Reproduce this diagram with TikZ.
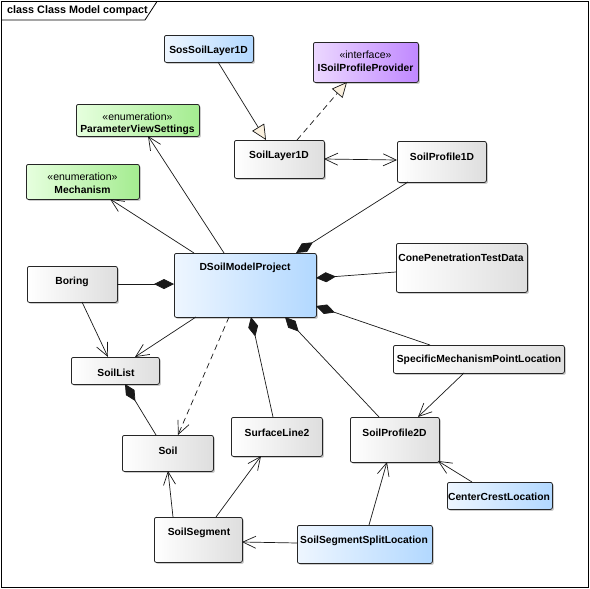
\documentclass[tikz,border=0pt]{standalone}
\usepackage{fontspec}
\setmainfont{Liberation Sans}
\usetikzlibrary{arrows.meta,shadows,calc}
\definecolor{bluel}{RGB}{238,246,255}
\definecolor{bluer}{RGB}{178,216,255}
\definecolor{greenl}{RGB}{230,255,222}
\definecolor{greenr}{RGB}{164,236,144}
\definecolor{purpl}{RGB}{236,216,255}
\definecolor{purpr}{RGB}{192,136,255}
\definecolor{cream}{RGB}{250,240,222}
\tikzset{
  box/.style={draw=black!85, rounded corners=2pt, line width=0.8pt, anchor=north west, inner sep=0pt,
    drop shadow={shadow xshift=1.5pt, shadow yshift=-1.5pt, fill=black!40, opacity=0.5}},
  plain/.style={box, left color=white, right color=black!13},
  bluebox/.style={box, left color=bluel, right color=bluer},
  greenbox/.style={box, left color=greenl, right color=greenr},
  purplebox/.style={box, left color=purpl, right color=purpr},
  lbl/.style={font=\bfseries\fontsize{10.3}{12}\selectfont, inner sep=0pt},
  stereo/.style={font=\fontsize{10.5}{12}\selectfont, inner sep=0pt},
  conn/.style={line width=0.7pt, draw=black!90},
  openarr/.style={conn, -{Straight Barb[length=13pt,width=12pt,line width=0.7pt]}},
  bothopen/.style={conn, {Straight Barb[length=13pt,width=12pt,line width=0.7pt]}-{Straight Barb[length=13pt,width=12pt,line width=0.7pt]}},
  genarr/.style={conn, -{Triangle[length=15pt,width=14pt,fill=cream,line width=0.7pt]}},
  realarr/.style={conn, dash pattern=on 6pt off 4pt, -{Triangle[length=15pt,width=14pt,fill=cream,line width=0.7pt]}},
  comp/.style={conn, {Diamond[length=20pt,width=10pt]}-},
  depend/.style={conn, dash pattern=on 6pt off 4pt, -{Straight Barb[length=13pt,width=12pt,line width=0.7pt]}},
}
\begin{document}
\begin{tikzpicture}[x=1pt,y=-1pt]
\useasboundingbox (0,0) rectangle (590,589);
% frame
\draw[line width=0.8pt] (1.5,1.5) rectangle (588,587.5);
\draw[line width=0.8pt] (1.5,20) -- (145,20) -- (157,1.5);
\node[lbl, font=\bfseries\fontsize{10.8}{12}\selectfont, anchor=west] (title) at (7,11) {class Class Model compact};

% boxes
\node[bluebox, minimum width=89pt, minimum height=27pt] (sos) at (164,35) {};
\node[purplebox, minimum width=105pt, minimum height=40pt] (isp) at (313,42) {};
\node[greenbox, minimum width=123pt, minimum height=32pt] (pvs) at (76,104) {};
\node[greenbox, minimum width=113pt, minimum height=35pt] (mech) at (26,164) {};
\node[plain, minimum width=90pt, minimum height=38pt] (sl1) at (234,140) {};
\node[plain, minimum width=89pt, minimum height=41pt] (sp1) at (397,141) {};
\node[bluebox, minimum width=142pt, minimum height=64pt] (dsm) at (174,253) {};
\node[plain, minimum width=131pt, minimum height=49pt] (cpt) at (396,243) {};
\node[plain, minimum width=90pt, minimum height=36pt] (boring) at (27,266) {};
\node[plain, minimum width=171pt, minimum height=28pt] (smpl) at (393,345) {};
\node[plain, minimum width=88pt, minimum height=27pt] (slist) at (71,357) {};
\node[plain, minimum width=91pt, minimum height=36pt] (soil) at (122,435) {};
\node[plain, minimum width=91pt, minimum height=39pt] (surf) at (231,417) {};
\node[plain, minimum width=89pt, minimum height=45pt] (sp2) at (350,417) {};
\node[bluebox, minimum width=105pt, minimum height=27pt] (ccl) at (447,482) {};
\node[plain, minimum width=88pt, minimum height=45pt] (seg) at (154,517) {};
\node[bluebox, minimum width=135pt, minimum height=38pt] (sssl) at (297,525) {};

% texts
\node[lbl] (tsos) at (208.5,50.5) {SosSoilLayer1D};
\node[stereo] (sisp) at (365.5,55) {«interface»};
\node[lbl] (tisp) at (365.5,68) {ISoilProfileProvider};
\node[stereo] (spvs) at (137.5,117) {«enumeration»};
\node[lbl] (tpvs) at (137.5,129.5) {ParameterViewSettings};
\node[stereo] (smech) at (82.5,177) {«enumeration»};
\node[lbl] (tmech) at (82.5,190) {Mechanism};
\node[lbl] (tsl1) at (279,156) {SoilLayer1D};
\node[lbl] (tsp1) at (442,157) {SoilProfile1D};
\node[lbl] (tdsm) at (245,268) {DSoilModelProject};
\node[lbl] (tcpt) at (461,258) {ConePenetrationTestData};
\node[lbl] (tboring) at (72,282) {Boring};
\node[lbl] (tsmpl) at (479,360) {SpecificMechanismPointLocation};
\node[lbl] (tslist) at (116,373) {SoilList};
\node[lbl] (tsoil) at (168,451) {Soil};
\node[lbl] (tsurf) at (277,433) {SurfaceLine2};
\node[lbl] (tsp2) at (394.5,433) {SoilProfile2D};
\node[lbl] (tccl) at (499,497) {CenterCrestLocation};
\node[lbl] (tseg) at (199,533) {SoilSegment};
\node[lbl] (tsssl) at (364,541) {SoilSegmentSplitLocation};

% connectors
\draw[genarr] ($(sos.north west)+(54,27)$) -- ($(sl1.north west)+(32,0)$);
\draw[realarr] ($(sl1.north west)+(63,0)$) -- ($(isp.north west)+(34,40)$);
\draw[bothopen] ($(sl1.north west)+(90,19)$) -- ($(sp1.north west)+(0,19)$);
\draw[comp] ($(dsm.north west)+(122,0)$) -- ($(sp1.north west)+(11,41)$);
\draw[comp] ($(dsm.north west)+(142,25)$) -- ($(cpt.north west)+(0,29)$);
\draw[comp] ($(dsm.north west)+(142,53)$) -- ($(smpl.north west)+(37,0)$);
\draw[openarr] ($(smpl.north west)+(71,28)$) -- ($(sp2.north west)+(68,0)$);
\draw[comp] ($(dsm.north west)+(111,64)$) -- ($(sp2.north west)+(29,0)$);
\draw[comp] ($(dsm.north west)+(77,64)$) -- ($(surf.north west)+(42,0)$);
\draw[depend] ($(dsm.north west)+(55,64)$) -- ($(soil.north west)+(56,0)$);
\draw[openarr] ($(dsm.north west)+(22,64)$) -- ($(slist.north west)+(64,0)$);
\draw[comp] ($(dsm.north west)+(0,31)$) -- ($(boring.north west)+(90,18)$);
\draw[openarr] ($(boring.north west)+(55,36)$) -- ($(slist.north west)+(37,0)$);
\draw[comp] ($(slist.north west)+(54,27)$) -- ($(soil.north west)+(34,0)$);
\draw[openarr] ($(seg.north west)+(19,0)$) -- ($(soil.north west)+(46,36)$);
\draw[openarr] ($(seg.north west)+(62,0)$) -- ($(surf.north west)+(30,39)$);
\draw[openarr] ($(sssl.north west)+(0,18)$) -- ($(seg.north west)+(88,25)$);
\draw[openarr] ($(sssl.north west)+(72,0)$) -- ($(sp2.north west)+(37,45)$);
\draw[openarr] ($(ccl.north west)+(25,0)$) -- ($(sp2.north west)+(88,44)$);
\draw[openarr] ($(dsm.north west)+(50,0)$) -- ($(pvs.north west)+(72,32)$);
\draw[openarr] ($(dsm.north west)+(20,0)$) -- ($(mech.north west)+(84,35)$);
\end{tikzpicture}
\end{document}
